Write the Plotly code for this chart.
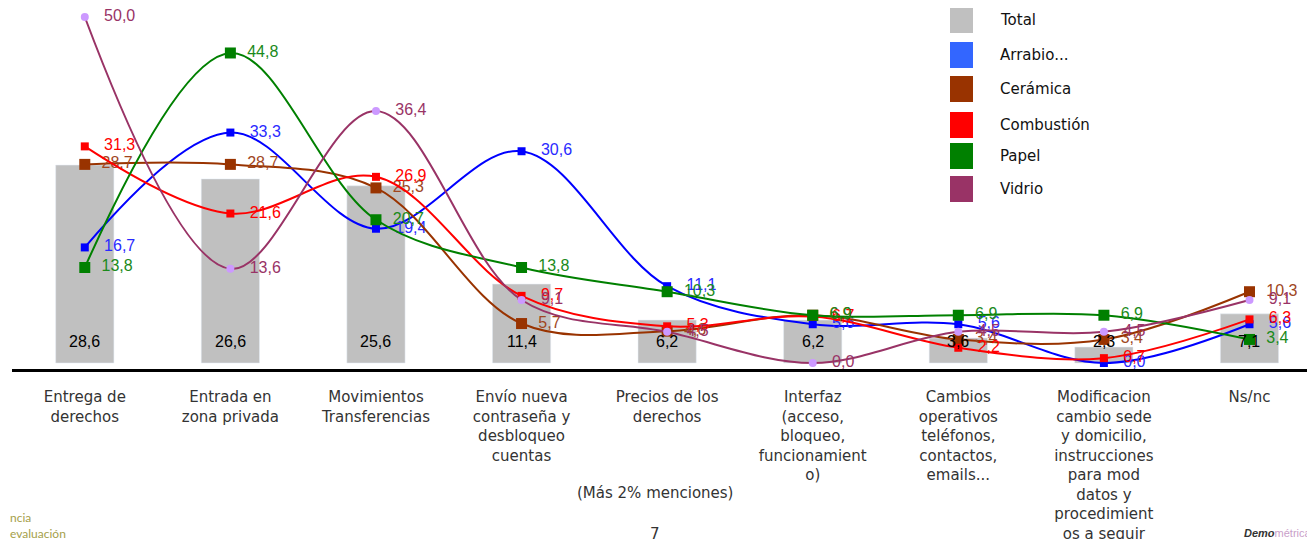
import plotly.graph_objects as go

categories = [
    "Entrega de<br>derechos",
    "Entrada en<br>zona privada",
    "Movimientos<br>Transferencias",
    "Envío nueva<br>contraseña y<br>desbloqueo<br>cuentas",
    "Precios de los<br>derechos",
    "Interfaz<br>(acceso,<br>bloqueo,<br>funcionamient<br>o)",
    "Cambios<br>operativos<br>teléfonos,<br>contactos,<br>emails...",
    "Modificacion<br>cambio sede<br>y domicilio,<br>instrucciones<br>para mod<br>datos y<br>procedimient<br>os a seguir",
    "Ns/nc",
]

total = [28.6, 26.6, 25.6, 11.4, 6.2, 6.2, 3.6, 2.3, 7.1]
arrabio = [16.7, 33.3, 19.4, 30.6, 11.1, 5.6, 5.6, 0.0, 5.6]
ceramica = [28.7, 28.7, 25.3, 5.7, 4.6, 6.9, 3.4, 3.4, 10.3]
combustion = [31.3, 21.6, 26.9, 9.7, 5.3, 6.7, 2.2, 0.7, 6.3]
papel = [13.8, 44.8, 20.7, 13.8, 10.3, 6.9, 6.9, 6.9, 3.4]
vidrio = [50.0, 13.6, 36.4, 9.1, 4.5, 0.0, 4.5, 4.5, 9.1]

legend_names = ["Total", "Arrabio...", "Cerámica", "Combustión", "Papel", "Vidrio"]
legend_colors = ["#c0c0c0", "#3366ff", "#993300", "#ff0000", "#008000", "#993366"]

# page has an 8px body margin; plot area is 1303 x 361 px starting at page (12, 8)
PW, PH = 1303, 361

def px(xp):
    return (xp - 12) / PW

def py(yp):
    return 1 - (yp - 8) / PH

def fmt(v):
    return f"{v:.1f}".replace(".", ",")

x = list(range(len(categories)))
fig = go.Figure()

fig.add_trace(go.Bar(
    x=x, y=total, width=0.4,
    marker_color="#c0c0c0",
    showlegend=False,
))

# bar value labels sit at a fixed height near the bottom of each bar
for xi, v in zip(x, total):
    fig.add_annotation(x=xi, y=0, text=fmt(v), showarrow=False,
                       yanchor="middle", yshift=21,
                       font=dict(color="black", size=16, family="Liberation Sans"))

series = [
    (arrabio, "#0000ff", "#2a2aff", "square", 8, "#0000ff"),
    (ceramica, "#993300", "#a0461e", "square", 11, "#993300"),
    (combustion, "#ff0000", "#ff0000", "square", 8, "#ff0000"),
    (papel, "#008000", "#1a8a1a", "square", 11, "#008000"),
    (vidrio, "#993366", "#993366", "circle", 8, "#cc99ff"),
]

for vals, lc, tc, sym, ms, mc in series:
    fig.add_trace(go.Scatter(
        x=x, y=vals, mode="lines+markers+text",
        line=dict(color=lc, width=2, shape="spline", smoothing=1.0),
        marker=dict(symbol=sym, size=ms, color=mc),
        text=["   " + fmt(v) if ms < 10 else "  " + fmt(v) for v in vals],
        textposition="middle right",
        textfont=dict(color=tc, size=16, family="Liberation Sans"),
        cliponaxis=False,
        showlegend=False,
    ))

# custom legend
ys = [20, 55, 89, 125, 156, 189]
for name, col, yc in zip(legend_names, legend_colors, ys):
    fig.add_shape(type="rect", xref="paper", yref="paper",
                  x0=px(950), x1=px(973), y0=py(yc + 13), y1=py(yc - 13),
                  fillcolor=col, line_width=0)
    fig.add_annotation(text=name, xref="paper", yref="paper",
                       x=px(998), y=py(yc),
                       xanchor="left", yanchor="middle", showarrow=False,
                       font=dict(size=15, color="#111", family="DejaVu Sans"))

fig.add_annotation(text="(Más 2% menciones)", xref="paper", yref="paper",
                   x=px(655), y=py(493),
                   xanchor="center", yanchor="middle", showarrow=False,
                   font=dict(size=15, color="#333", family="DejaVu Sans"))
fig.add_annotation(text="7", xref="paper", yref="paper",
                   x=px(655), y=py(531), xanchor="center", yanchor="bottom",
                   showarrow=False, yshift=-14,
                   font=dict(size=15, color="#333", family="DejaVu Sans"))
fig.add_annotation(text="ncia<br>evaluación", xref="paper", yref="paper",
                   x=px(8), y=py(525), align="left",
                   xanchor="left", yanchor="middle", showarrow=False,
                   font=dict(size=12, color="#a5a04a", family="Lato"))
fig.add_annotation(text="<b><i>Demo</i></b><span style='color:#c9a0c9'>métrica</span>",
                   xref="paper", yref="paper",
                   x=px(1242), y=py(533),
                   xanchor="left", yanchor="middle", showarrow=False,
                   font=dict(size=11, color="#333", family="Liberation Sans"))

fig.update_layout(
    width=1307, height=531,
    margin=dict(l=4, r=0, t=0, b=170, autoexpand=False),
    plot_bgcolor="white", paper_bgcolor="white",
    showlegend=False,
    xaxis=dict(
        tickmode="array", tickvals=x, ticktext=categories,
        range=[-0.5, 8.45], automargin=False,
        showline=True, linecolor="black", linewidth=3,
        showgrid=False, ticks="", ticklabelstandoff=12,
        tickfont=dict(size=15, color="#333", family="DejaVu Sans"),
    ),
    yaxis=dict(range=[-0.87, 51.3], visible=False, showgrid=False, automargin=False),
)

fig.write_html("out.html")
